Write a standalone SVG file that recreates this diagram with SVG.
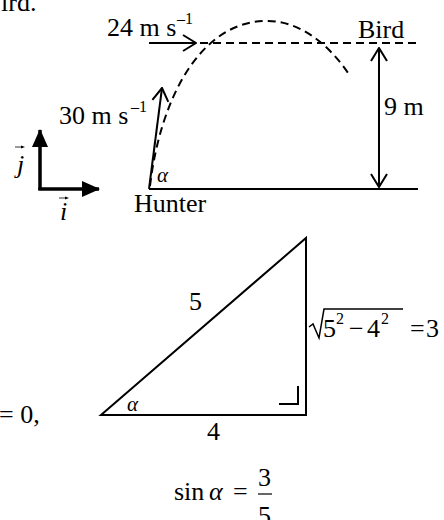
<svg xmlns="http://www.w3.org/2000/svg" width="444" height="520" viewBox="0 0 444 520">
<style>
text{font-family:"Liberation Serif","Times New Roman",serif;fill:#000}
.t{font-size:26px}
.it{font-style:italic}
.sup{font-size:16px}
.ln{stroke:#000;stroke-width:2;fill:none}
.dash{stroke:#000;stroke-width:2;fill:none;stroke-dasharray:8 5}
.axis{stroke:#000;stroke-width:3.5;fill:none}
</style>
<defs>
<marker id="open" markerUnits="userSpaceOnUse" viewBox="0 0 15 18" refX="14" refY="9" markerWidth="15" markerHeight="18" orient="auto-start-reverse">
<path d="M1,1 L14,9 L1,17" fill="none" stroke="#000" stroke-width="2"/>
</marker>
<marker id="solid" markerUnits="userSpaceOnUse" viewBox="0 0 18 16" refX="17" refY="8" markerWidth="18" markerHeight="16" orient="auto">
<path d="M0,0 L18,8 L0,16 Z" fill="#000"/>
</marker>
</defs>

<text class="t" x="1" y="11">ird.</text>

<g id="connectors">
<path class="dash" d="M150,186 C160,100 200,20 268,21 C300,21 330,45 350,76"/>
<line class="dash" x1="200" y1="43" x2="418" y2="43"/>
<line class="ln" x1="149" y1="43" x2="196" y2="43" marker-end="url(#open)"/>
<line class="ln" x1="149" y1="189" x2="162" y2="88" marker-end="url(#open)"/>
<line class="ln" x1="149" y1="189" x2="418" y2="189"/>
<line class="ln" x1="379" y1="48" x2="379" y2="187" marker-start="url(#open)" marker-end="url(#open)"/>
<line class="axis" x1="40" y1="190" x2="40" y2="130" marker-end="url(#solid)"/>
<line class="axis" x1="38.3" y1="189" x2="99" y2="189" marker-end="url(#solid)"/>
</g>

<g id="speed24">
<text class="t" x="107" y="36">24 m s</text>
<text class="sup" x="177" y="24">–1</text>
</g>
<g id="bird"><text class="t" x="358" y="38">Bird</text></g>
<g id="height"><text class="t" x="384" y="115">9 m</text></g>
<g id="speed30">
<text class="t" x="59" y="124">30 m s</text>
<text class="sup" x="131" y="112">–1</text>
</g>
<g id="alpha1"><text class="it" x="157" y="182" font-size="21">α</text></g>
<g id="hunter"><text class="t" x="134" y="212">Hunter</text></g>
<g id="unitj">
<text class="t it" x="17" y="173">j</text>
<line x1="15" y1="147" x2="23" y2="147" stroke="#000" stroke-width="0.8"/>
<path d="M25,147 L21,145.5 L21,148.5 Z" fill="#000"/>
</g>
<g id="uniti">
<text class="t it" x="60" y="220">i</text>
<line x1="59" y1="198" x2="67" y2="198" stroke="#000" stroke-width="0.8"/>
<path d="M69,198 L65,196.5 L65,199.5 Z" fill="#000"/>
</g>

<g id="triangle">
<path class="ln" d="M101,415 L306,238 L306,415 Z"/>
<path class="ln" d="M279,404 L298,404 L298,386"/>
<text class="t" x="189" y="310">5</text>
<text class="t" x="207" y="440">4</text>
<text class="it" x="127" y="411" font-size="21">α</text>
</g>
<g id="sqrt">
<path d="M309,327 L313,324 L319,338 L324,309 L403,309" fill="none" stroke="#000" stroke-width="1.5"/>
<text class="t" x="323" y="337">5</text>
<text class="sup" x="336" y="324">2</text>
<text class="t" x="349" y="337">−</text>
<text class="t" x="367" y="337">4</text>
<text class="sup" x="381" y="324">2</text>
<text class="t" x="410" y="337">=</text>
<text class="t" x="426" y="337">3</text>
</g>
<g id="eq0"><text class="t" x="-1" y="423">= 0,</text></g>
<g id="sin">
<text class="t" x="174" y="500">sin</text>
<text class="t it" x="209" y="500">α</text>
<text class="t" x="233" y="500">=</text>
<text class="t" x="258" y="486">3</text>
<line x1="258" y1="494" x2="272" y2="494" stroke="#000" stroke-width="1.2"/>
<text class="t" x="258" y="524">5</text>
</g>
</svg>
